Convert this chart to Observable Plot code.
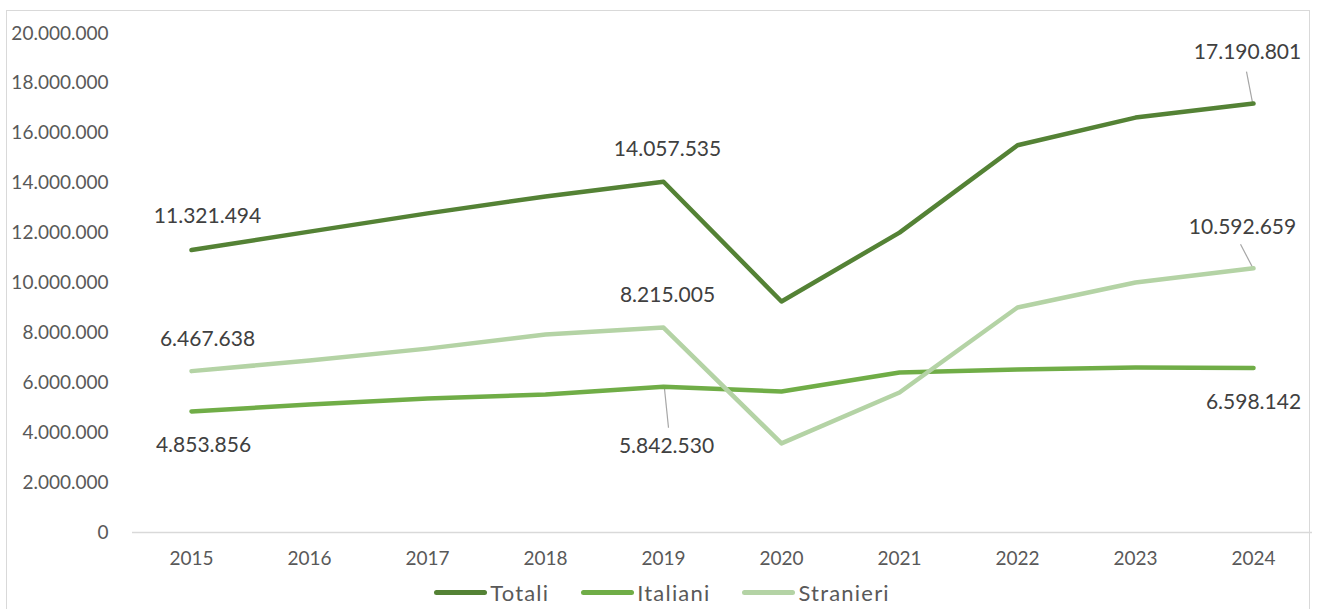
<!DOCTYPE html>
<html>
<head>
<meta charset="utf-8">
<script src="https://cdn.jsdelivr.net/npm/d3@7"></script>
<script src="https://cdn.jsdelivr.net/npm/@observablehq/plot@0.6"></script>
<style>
  html, body { margin: 0; padding: 0; background: #fff; overflow: hidden; }
  body { width: 1317px; height: 609px; position: relative; font-family: Lato, "Open Sans", sans-serif; }
  #frame { position: absolute; left: 6px; top: 10px; width: 1304px; height: 640px; border: 1.5px solid #d9d9d9; box-sizing: border-box; }
  #chart { position: absolute; left: 0; top: 0; }
  #legend { position: absolute; left: 0; top: 579px; width: 1317px; display: flex; justify-content: center; gap: 32px; font-size: 22px; letter-spacing: 1.2px; color: #595959; padding-left: 7px; box-sizing: border-box; }
  .item { display: flex; align-items: center; }
  .sw { display: inline-block; width: 53px; height: 5px; border-radius: 3px; margin-right: 3px; }
</style>
</head>
<body>
<div id="frame"></div>
<div id="chart"></div>
<div id="legend"></div>
<script>
const years = [2015, 2016, 2017, 2018, 2019, 2020, 2021, 2022, 2023, 2024];
const totali = [11321494, 12060000, 12790000, 13470000, 14057535, 9260000, 12020000, 15520000, 16630000, 17190801];
const italiani = [4853856, 5130000, 5370000, 5530000, 5842530, 5650000, 6410000, 6530000, 6610000, 6598142];
const stranieri = [6467638, 6890000, 7370000, 7940000, 8215005, 3570000, 5610000, 9020000, 10020000, 10592659];
const seriesNames = ["Totali", "Italiani", "Stranieri"];
const seriesValues = [totali, italiani, stranieri];
const labelledYears = [2015, 2019, 2024];
const yTicks = [0, 2000000, 4000000, 6000000, 8000000, 10000000, 12000000, 14000000, 16000000, 18000000, 20000000];

const colors = {Totali: "#548235", Italiani: "#70AD47", Stranieri: "#B4D3A5"};

const itFmt = d3.formatLocale({decimal: ",", thousands: ".", grouping: [3], currency: ["€", ""]}).format(",d");

const rows = seriesNames.flatMap((s, i) => years.map((y, j) => ({series: s, year: y, value: seriesValues[i][j]})));

// label offsets (pixels) relative to the data point
const offsets = {
  "Totali-2015": [16, -34], "Totali-2019": [4, -32], "Totali-2024": [-6, -51],
  "Stranieri-2015": [16, -32], "Stranieri-2019": [4, -32], "Stranieri-2024": [-11, -41],
  "Italiani-2015": [12, 34], "Italiani-2019": [3, 60], "Italiani-2024": [0, 34]
};
const leaders = {
  "Totali-2024": [[-7, -32], [-1, -1]],
  "Stranieri-2024": [[-13, -24], [-1, -1]],
  "Italiani-2019": [[1, 2], [5, 41]]
};
const labels = rows.filter(d => labelledYears.includes(d.year));

const textMarks = labels.map(d => {
  const [dx, dy] = offsets[d.series + "-" + d.year];
  return Plot.text([d], {x: "year", y: "value", text: d => itFmt(d.value), dx, dy,
    fill: "#404040", fontSize: 21, fontFamily: "Lato", textAnchor: "middle", lineAnchor: "middle"});
});
const leaderMarks = labels.filter(d => leaders[d.series + "-" + d.year]).map(d => {
  const [[ax, ay], [bx, by]] = leaders[d.series + "-" + d.year];
  return Plot.link([d], {x1: "year", y1: "value", x2: "year", y2: "value",
    stroke: "#a6a6a6", strokeWidth: 1.2,
    render: (index, scales, values, dims, ctx, next) => {
      const g = next(index, scales, values, dims, ctx);
      d3.select(g).selectAll("path").attr("d", () => {
        const x = scales.x(d.year), y = scales.y(d.value);
        return `M${x + ax},${y + ay}L${x + bx},${y + by}`;
      });
      return g;
    }});
});

const chart = Plot.plot({
  width: 1317,
  height: 575,
  marginLeft: 132,
  marginRight: 5,
  marginTop: 33,
  marginBottom: 43,
  style: {fontFamily: "Lato", background: "transparent", overflow: "visible"},
  x: {type: "point", domain: years, padding: 0.5},
  y: {domain: [0, 20000000]},
  marks: [
    Plot.axisY({ticks: yTicks, tickSize: 0, tickPadding: 24, tickFormat: itFmt, fontSize: 19, fill: "#595959", label: null}),
    Plot.axisX({tickSize: 0, tickPadding: 19, tickFormat: d => String(d), fontSize: 19, fill: "#595959", label: null}),
    Plot.ruleY([0], {stroke: "#d9d9d9", strokeWidth: 1.5}),
    ...leaderMarks,
    Plot.line(rows, {x: "year", y: "value", z: "series", stroke: d => colors[d.series], strokeWidth: 4.5, strokeLinecap: "round", strokeLinejoin: "round"}),
    ...textMarks
  ]
});
document.getElementById("chart").appendChild(chart);

const legend = document.getElementById("legend");
seriesNames.forEach(s => {
  const it = document.createElement("div");
  it.className = "item";
  const sw = document.createElement("span");
  sw.className = "sw";
  sw.style.background = colors[s];
  const t = document.createElement("span");
  t.textContent = s;
  it.appendChild(sw); it.appendChild(t);
  legend.appendChild(it);
});
</script>
</body>
</html>
